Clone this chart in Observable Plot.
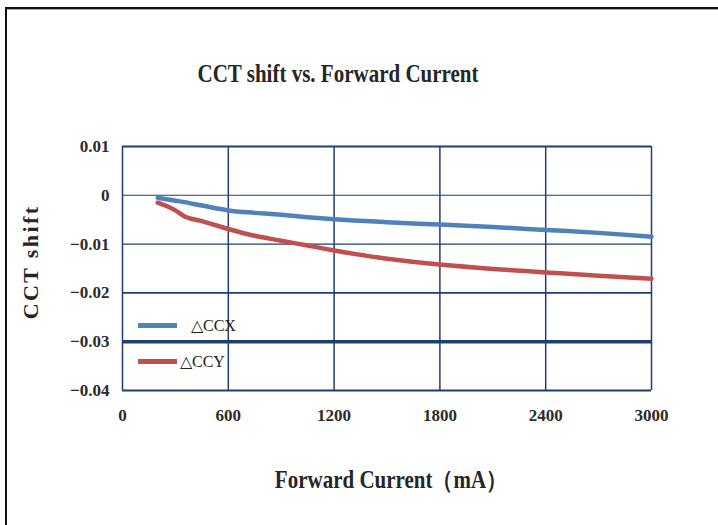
<!DOCTYPE html>
<html>
<head>
<meta charset="utf-8">
<script src="https://cdn.jsdelivr.net/npm/d3@7"></script>
<script src="https://cdn.jsdelivr.net/npm/@observablehq/plot@0.6"></script>
<style>
  html, body { margin: 0; padding: 0; background: #fff; }
  #wrap { position: relative; width: 718px; height: 525px; overflow: hidden; font-family: "Liberation Serif", serif; }
  #wrap svg { position: absolute; left: 0; top: 0; }
  .frameTop { position: absolute; left: 5px; top: 7px; width: 713px; height: 2px; background: #111; border-bottom: 1px solid #aaa; }
  .frameLeft { position: absolute; left: 5px; top: 7px; width: 2px; height: 518px; background: #111; }
  .title { position: absolute; left: 0; width: 676px; top: 62px; text-align: center; font-weight: bold; font-size: 21px; color: #262626; transform-origin: center; transform: scaleY(1.2); }
  .xtitle { position: absolute; left: 0; width: 782px; top: 466px; text-align: center; font-weight: bold; font-size: 21px; color: #262626; transform: scaleY(1.15); }
  .ytitle { position: absolute; left: 31px; top: 262px; transform: translate(-50%, -50%) rotate(-90deg); font-weight: bold; font-size: 22px; letter-spacing: 2.4px; color: #262626; white-space: nowrap; }
  .leg { position: absolute; display: flex; align-items: center; font-size: 16px; color: #222; white-space: nowrap; }
  .leg span.sw { display: inline-block; width: 39px; height: 5px; }
</style>
</head>
<body>
<div id="wrap">
  <div class="frameTop"></div>
  <div class="frameLeft"></div>
  <div class="title" id="title"></div>
  <div class="xtitle" id="xtitle"></div>
  <div class="ytitle" id="ytitle"></div>
  <div class="leg" id="legX" style="left:138px; top:316px;"><span class="sw" id="swX"></span><span id="labX" style="margin-left:14px"></span></div>
  <div class="leg" id="legY" style="left:138px; top:352px;"><span class="sw" id="swY"></span><span id="labY" style="margin-left:3px"></span></div>
</div>
<script>
// ---- data ----
const titleText = "CCT shift vs. Forward Current";
const xTitle = "Forward Current（mA）";
const yTitle = "CCT shift";
const seriesNames = ["△CCX", "△CCY"];
const seriesColors = ["#4f81bd", "#c0504d"];
const xTicks = [0, 600, 1200, 1800, 2400, 3000];
const yTicks = [0.01, 0, -0.01, -0.02, -0.03, -0.04];
const current = [200, 250, 300, 350, 450, 600, 750, 900, 1050, 1200, 1500, 1800, 2100, 2400, 2700, 3000];
const dCCX = [-0.0005, -0.0008, -0.0011, -0.0014, -0.0021, -0.0031, -0.0036, -0.0040, -0.0045, -0.0049, -0.0055, -0.0060, -0.0065, -0.0071, -0.0077, -0.0085];
const dCCY = [-0.0015, -0.0022, -0.0031, -0.0043, -0.0053, -0.0069, -0.0083, -0.0093, -0.0103, -0.0113, -0.0130, -0.0142, -0.0151, -0.0158, -0.0165, -0.0171];

// ---- build ----
const rows = [];
current.forEach((c, i) => {
  rows.push({current: c, shift: dCCX[i], series: seriesNames[0]});
  rows.push({current: c, shift: dCCY[i], series: seriesNames[1]});
});
const grid = "#1f3f72";
const fmt = d3.format("");
const chart = Plot.plot({
  width: 718,
  height: 525,
  marginLeft: 122,
  marginRight: 67,
  marginTop: 146,
  marginBottom: 135,
  style: {fontFamily: "'Liberation Serif', serif", fontSize: "17px", background: "transparent"},
  x: {domain: [0, 3000], label: null},
  y: {domain: [-0.04, 0.01], label: null},
  color: {domain: seriesNames, range: seriesColors},
  marks: [
    Plot.ruleX(xTicks.filter(d => d > 0 && d < 3000), {stroke: grid, strokeWidth: 1.5}),
    Plot.ruleX([xTicks[0], xTicks[xTicks.length - 1]], {stroke: grid, strokeWidth: 1.5}),
    Plot.ruleY([yTicks[1], yTicks[2]], {stroke: grid, strokeWidth: 1.1}),
    Plot.ruleY([yTicks[3]], {stroke: grid, strokeWidth: 1.7}),
    Plot.ruleY([yTicks[0], yTicks[5]], {stroke: grid, strokeWidth: 2.2}),
    Plot.ruleY([yTicks[4]], {stroke: grid, strokeWidth: 3.5}),
    Plot.line(rows, {x: "current", y: "shift", z: "series", stroke: "series", strokeWidth: 4.5, curve: "monotone-x"}),
    Plot.axisX({ticks: xTicks, tickSize: 0, tickPadding: 18, tickFormat: fmt, fontSize: 17, fontWeight: "bold", fill: "#2b2b2b", label: null}),
    Plot.axisY({ticks: yTicks, tickSize: 0, tickPadding: 13, tickFormat: fmt, fontSize: 17, fontWeight: "bold", fill: "#2b2b2b", label: null})
  ]
});
document.getElementById("wrap").insertBefore(chart, document.getElementById("wrap").firstChild);
document.getElementById("title").textContent = titleText;
document.getElementById("xtitle").textContent = xTitle;
document.getElementById("ytitle").textContent = yTitle;
document.getElementById("labX").textContent = seriesNames[0];
document.getElementById("labY").textContent = seriesNames[1];
document.getElementById("swX").style.background = seriesColors[0];
document.getElementById("swY").style.background = seriesColors[1];
</script>
</body>
</html>
